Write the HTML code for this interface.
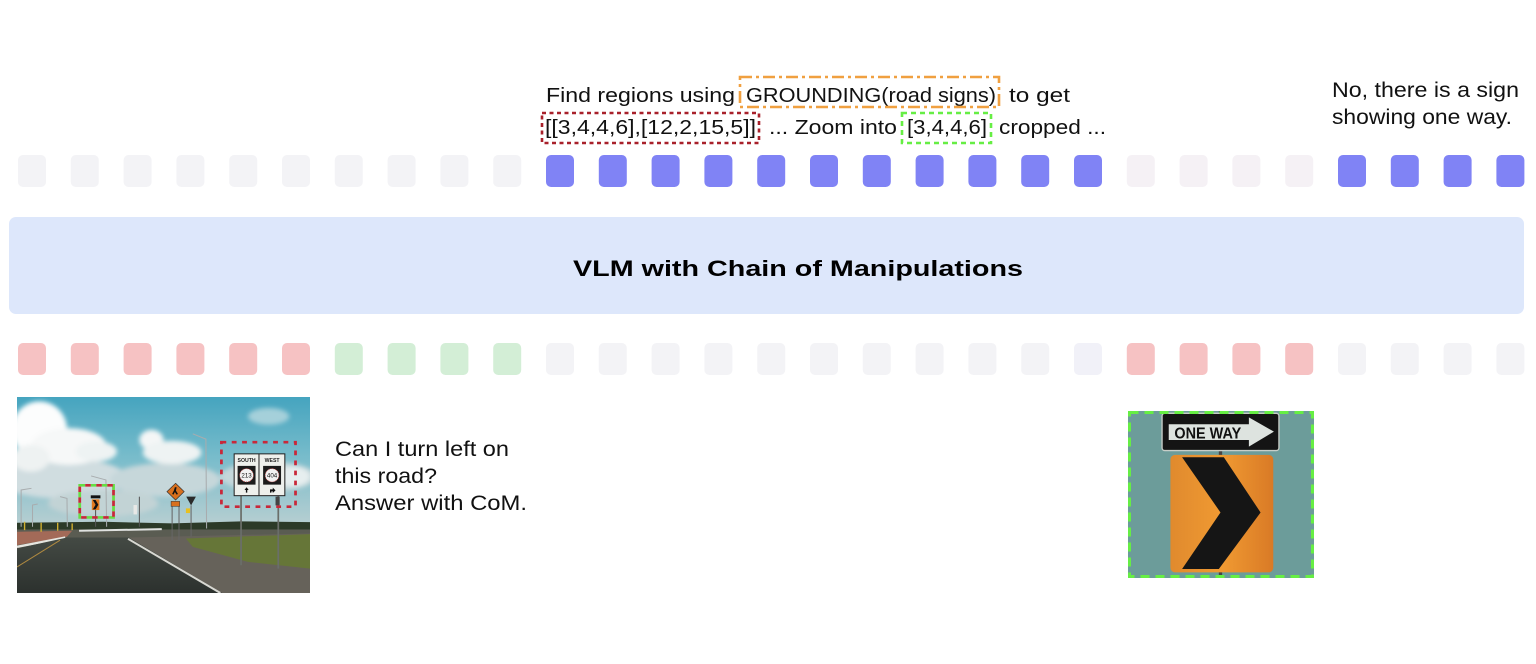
<!DOCTYPE html>
<html><head><meta charset="utf-8"><style>
html,body{margin:0;padding:0;background:#fff;}
svg{display:block;}
text{font-family:"Liberation Sans","DejaVu Sans",sans-serif;}
</style></head><body>
<svg width="1536" height="664" viewBox="0 0 1536 664" xmlns="http://www.w3.org/2000/svg">
<rect width="1536" height="664" fill="#fff"/>

<!-- top text -->
<g font-size="20" fill="#111">
<text x="546" y="102" textLength="189" lengthAdjust="spacingAndGlyphs">Find regions using</text>
<text x="746" y="102" textLength="250" lengthAdjust="spacingAndGlyphs">GROUNDING(road signs)</text>
<text x="1009" y="102" textLength="61" lengthAdjust="spacingAndGlyphs">to get</text>
<text x="545" y="134" textLength="211" lengthAdjust="spacingAndGlyphs">[[3,4,4,6],[12,2,15,5]]</text>
<text x="769" y="134" textLength="128" lengthAdjust="spacingAndGlyphs">... Zoom into</text>
<text x="907" y="134" textLength="80" lengthAdjust="spacingAndGlyphs">[3,4,4,6]</text>
<text x="999" y="134" textLength="107" lengthAdjust="spacingAndGlyphs">cropped ...</text>
</g>
<rect x="740" y="77" width="259" height="30" fill="none" stroke="#f0a040" stroke-width="2.6" stroke-dasharray="12 4 3 4"/>
<rect x="542" y="113" width="217" height="30" fill="none" stroke="#a8202a" stroke-width="2.6" stroke-dasharray="4 3.5"/>
<rect x="902" y="113" width="89" height="30" fill="none" stroke="#66ee44" stroke-width="2.6" stroke-dasharray="5 4"/>

<g font-size="21" fill="#111">
<text x="1332" y="97" textLength="187" lengthAdjust="spacingAndGlyphs">No, there is a sign</text>
<text x="1332" y="124" textLength="180" lengthAdjust="spacingAndGlyphs">showing one way.</text>
</g>

<!-- top tokens -->
<g>
<rect x="18" y="155" width="28" height="32" rx="5" fill="#f3f3f6"/>
<rect x="70.8" y="155" width="28" height="32" rx="5" fill="#f3f3f6"/>
<rect x="123.6" y="155" width="28" height="32" rx="5" fill="#f3f3f6"/>
<rect x="176.4" y="155" width="28" height="32" rx="5" fill="#f3f3f6"/>
<rect x="229.2" y="155" width="28" height="32" rx="5" fill="#f3f3f6"/>
<rect x="282" y="155" width="28" height="32" rx="5" fill="#f3f3f6"/>
<rect x="334.8" y="155" width="28" height="32" rx="5" fill="#f3f3f6"/>
<rect x="387.6" y="155" width="28" height="32" rx="5" fill="#f3f3f6"/>
<rect x="440.4" y="155" width="28" height="32" rx="5" fill="#f3f3f6"/>
<rect x="493.2" y="155" width="28" height="32" rx="5" fill="#f3f3f6"/>
<rect x="546" y="155" width="28" height="32" rx="5" fill="#8083f5"/>
<rect x="598.8" y="155" width="28" height="32" rx="5" fill="#8083f5"/>
<rect x="651.6" y="155" width="28" height="32" rx="5" fill="#8083f5"/>
<rect x="704.4" y="155" width="28" height="32" rx="5" fill="#8083f5"/>
<rect x="757.2" y="155" width="28" height="32" rx="5" fill="#8083f5"/>
<rect x="810" y="155" width="28" height="32" rx="5" fill="#8083f5"/>
<rect x="862.8" y="155" width="28" height="32" rx="5" fill="#8083f5"/>
<rect x="915.6" y="155" width="28" height="32" rx="5" fill="#8083f5"/>
<rect x="968.4" y="155" width="28" height="32" rx="5" fill="#8083f5"/>
<rect x="1021.2" y="155" width="28" height="32" rx="5" fill="#8083f5"/>
<rect x="1074" y="155" width="28" height="32" rx="5" fill="#8083f5"/>
<rect x="1126.8" y="155" width="28" height="32" rx="5" fill="#f5f1f5"/>
<rect x="1179.6" y="155" width="28" height="32" rx="5" fill="#f5f1f5"/>
<rect x="1232.4" y="155" width="28" height="32" rx="5" fill="#f5f1f5"/>
<rect x="1285.2" y="155" width="28" height="32" rx="5" fill="#f5f1f5"/>
<rect x="1338" y="155" width="28" height="32" rx="5" fill="#8083f5"/>
<rect x="1390.8" y="155" width="28" height="32" rx="5" fill="#8083f5"/>
<rect x="1443.6" y="155" width="28" height="32" rx="5" fill="#8083f5"/>
<rect x="1496.4" y="155" width="28" height="32" rx="5" fill="#8083f5"/>
</g>

<!-- VLM band -->
<rect x="9" y="217" width="1515" height="97" rx="7" fill="#dde7fb"/>
<text x="573" y="276" font-size="22" font-weight="bold" fill="#000" textLength="450" lengthAdjust="spacingAndGlyphs">VLM with Chain of Manipulations</text>

<!-- bottom tokens -->
<g>
<rect x="18" y="343" width="28" height="32" rx="5" fill="#f6c2c3"/>
<rect x="70.8" y="343" width="28" height="32" rx="5" fill="#f6c2c3"/>
<rect x="123.6" y="343" width="28" height="32" rx="5" fill="#f6c2c3"/>
<rect x="176.4" y="343" width="28" height="32" rx="5" fill="#f6c2c3"/>
<rect x="229.2" y="343" width="28" height="32" rx="5" fill="#f6c2c3"/>
<rect x="282" y="343" width="28" height="32" rx="5" fill="#f6c2c3"/>
<rect x="334.8" y="343" width="28" height="32" rx="5" fill="#d3eed6"/>
<rect x="387.6" y="343" width="28" height="32" rx="5" fill="#d3eed6"/>
<rect x="440.4" y="343" width="28" height="32" rx="5" fill="#d3eed6"/>
<rect x="493.2" y="343" width="28" height="32" rx="5" fill="#d3eed6"/>
<rect x="546" y="343" width="28" height="32" rx="5" fill="#f3f3f6"/>
<rect x="598.8" y="343" width="28" height="32" rx="5" fill="#f3f3f6"/>
<rect x="651.6" y="343" width="28" height="32" rx="5" fill="#f3f3f6"/>
<rect x="704.4" y="343" width="28" height="32" rx="5" fill="#f3f3f6"/>
<rect x="757.2" y="343" width="28" height="32" rx="5" fill="#f3f3f6"/>
<rect x="810" y="343" width="28" height="32" rx="5" fill="#f3f3f6"/>
<rect x="862.8" y="343" width="28" height="32" rx="5" fill="#f3f3f6"/>
<rect x="915.6" y="343" width="28" height="32" rx="5" fill="#f3f3f6"/>
<rect x="968.4" y="343" width="28" height="32" rx="5" fill="#f3f3f6"/>
<rect x="1021.2" y="343" width="28" height="32" rx="5" fill="#f3f3f6"/>
<rect x="1074" y="343" width="28" height="32" rx="5" fill="#f1f1f8"/>
<rect x="1126.8" y="343" width="28" height="32" rx="5" fill="#f6c2c3"/>
<rect x="1179.6" y="343" width="28" height="32" rx="5" fill="#f6c2c3"/>
<rect x="1232.4" y="343" width="28" height="32" rx="5" fill="#f6c2c3"/>
<rect x="1285.2" y="343" width="28" height="32" rx="5" fill="#f6c2c3"/>
<rect x="1338" y="343" width="28" height="32" rx="5" fill="#f3f3f6"/>
<rect x="1390.8" y="343" width="28" height="32" rx="5" fill="#f3f3f6"/>
<rect x="1443.6" y="343" width="28" height="32" rx="5" fill="#f3f3f6"/>
<rect x="1496.4" y="343" width="28" height="32" rx="5" fill="#f3f3f6"/>
</g>

<!-- question text -->
<g font-size="21" fill="#111">
<text x="335" y="456" textLength="174" lengthAdjust="spacingAndGlyphs">Can I turn left on</text>
<text x="335" y="483" textLength="102" lengthAdjust="spacingAndGlyphs">this road?</text>
<text x="335" y="510" textLength="192" lengthAdjust="spacingAndGlyphs">Answer with CoM.</text>
</g>

<!-- road photo -->
<svg x="17" y="397" width="293" height="196" viewBox="50 52 850 586" preserveAspectRatio="none">
<defs>
<linearGradient id="sky" x1="0" y1="0" x2="0" y2="1">
<stop offset="0" stop-color="#45a4bf"/>
<stop offset="0.45" stop-color="#78bccb"/>
<stop offset="1" stop-color="#bcd0d2"/>
</linearGradient>
<linearGradient id="road" x1="0" y1="0" x2="0" y2="1">
<stop offset="0" stop-color="#444a44"/>
<stop offset="1" stop-color="#2c312e"/>
</linearGradient>
<filter id="bl" x="-20%" y="-20%" width="140%" height="140%"><feGaussianBlur stdDeviation="7"/></filter>
</defs>
<rect x="50" y="52" width="850" height="400" fill="url(#sky)"/>
<g filter="url(#bl)">
<ellipse cx="180" cy="295" rx="190" ry="60" fill="#d0dde0"/>
<ellipse cx="480" cy="300" rx="160" ry="50" fill="#c6d7da"/>
<ellipse cx="780" cy="290" rx="140" ry="45" fill="#c4d7da"/>
<ellipse cx="115" cy="150" rx="80" ry="85" fill="#fcfdfd"/>
<ellipse cx="200" cy="200" rx="110" ry="55" fill="#f6f8f8"/>
<ellipse cx="280" cy="215" rx="60" ry="30" fill="#eef3f3"/>
<ellipse cx="90" cy="235" rx="55" ry="40" fill="#eef2f2"/>
<ellipse cx="440" cy="180" rx="35" ry="30" fill="#f4f6f6"/>
<ellipse cx="500" cy="218" rx="85" ry="35" fill="#eef3f3"/>
<ellipse cx="780" cy="110" rx="60" ry="25" fill="#a5d0da"/>
<ellipse cx="850" cy="290" rx="50" ry="30" fill="#e6eeef"/>
<ellipse cx="300" cy="370" rx="160" ry="40" fill="#c2d3d5"/>
</g>
<!-- horizon -->
<polygon points="50,428 300,425 500,430 700,424 900,426 900,450 50,452" fill="#2c3a28"/>
<rect x="50" y="448" width="850" height="190" fill="#5a5c52"/>
<polygon points="50,455 210,452 195,470 50,495" fill="#a36a58"/>
<line x1="50" y1="500" x2="190" y2="472" stroke="#e6e6e0" stroke-width="7"/>
<polygon points="50,505 195,472 375,472 645,638 50,638" fill="url(#road)"/>
<polygon points="375,472 900,460 900,638 645,638" fill="#66625a"/>
<polygon points="540,475 900,462 900,565 720,545 560,500" fill="#667638"/>
<line x1="372" y1="476" x2="640" y2="638" stroke="#d8d8d2" stroke-width="6"/>
<line x1="50" y1="560" x2="175" y2="480" stroke="#b08a40" stroke-width="3"/>
<line x1="230" y1="452" x2="470" y2="447" stroke="#e0e2e0" stroke-width="6"/>
<!-- poles -->
<g stroke="#a8acae" stroke-width="3" fill="none">
<polyline points="560,162 598,178 600,445"/>
<polyline points="265,288 308,300 310,440"/>
<polyline points="62,440 62,330 92,325"/>
<polyline points="175,350 195,355 196,440"/>
<polyline points="95,440 95,375 110,372"/>
</g>
<line x1="405" y1="350" x2="405" y2="440" stroke="#555" stroke-width="3"/>
<rect x="388" y="375" width="10" height="28" fill="#e8e8e6"/>
<!-- yellow posts -->
<g stroke="#d0b030" stroke-width="4">
<line x1="72" y1="425" x2="72" y2="450"/><line x1="120" y1="428" x2="120" y2="455"/><line x1="168" y1="428" x2="168" y2="452"/><line x1="210" y1="430" x2="210" y2="450"/>
</g>
<!-- orange diamond -->
<line x1="500" y1="375" x2="500" y2="480" stroke="#666" stroke-width="3"/>
<line x1="520" y1="375" x2="520" y2="480" stroke="#666" stroke-width="3"/>
<polygon points="510,310 535,335 510,360 485,335" fill="#d8701e" stroke="#333" stroke-width="2"/>
<path d="M508,322 l5,0 l-2,10 l6,10 l-4,2 l-5,-8 l-4,8 l-4,-2 l5,-10z" fill="#111"/>
<rect x="497" y="364" width="25" height="15" fill="#d8701e" stroke="#333" stroke-width="1.5"/>
<!-- yield -->
<line x1="555" y1="376" x2="555" y2="470" stroke="#666" stroke-width="3"/>
<polygon points="541,350 569,350 555,376" fill="#2a2a2a"/>
<rect x="540" y="385" width="12" height="14" fill="#e8c020"/>
<!-- big sign -->
<line x1="700" y1="347" x2="700" y2="555" stroke="#6a6e6a" stroke-width="5"/>
<line x1="808" y1="347" x2="808" y2="565" stroke="#6a6e6a" stroke-width="5"/>
<rect x="800" y="350" width="12" height="26" fill="#444"/>
<rect x="680" y="222" width="147" height="125" fill="#eef0ec" stroke="#222" stroke-width="3"/>
<line x1="752" y1="222" x2="752" y2="347" stroke="#222" stroke-width="3"/>
<text x="716" y="246" font-size="15" font-weight="bold" text-anchor="middle" fill="#222">SOUTH</text>
<text x="790" y="246" font-size="15" font-weight="bold" text-anchor="middle" fill="#222">WEST</text>
<rect x="690" y="258" width="52" height="56" fill="#1c1c1c"/>
<circle cx="716" cy="286" r="20" fill="#f2f2f2" stroke="#b03030" stroke-width="2" stroke-dasharray="3 3"/>
<text x="716" y="293" font-size="18" text-anchor="middle" fill="#111">213</text>
<rect x="764" y="258" width="52" height="56" fill="#1c1c1c"/>
<circle cx="790" cy="286" r="20" fill="#f2f2f2" stroke="#b03030" stroke-width="2" stroke-dasharray="3 3"/>
<text x="790" y="293" font-size="18" text-anchor="middle" fill="#111">404</text>
<path d="M716,322 l-6,8 h4 v8 h4 v-8 h4z" fill="#111"/>
<path d="M784,338 v-10 h8 v-5 l8,8 l-8,8 v-5 h-4 v4z" fill="#111"/>
<rect x="643" y="187" width="215" height="193" fill="none" stroke="#c8283a" stroke-width="8" stroke-dasharray="14 16"/>
<!-- small sign -->
<line x1="278" y1="390" x2="278" y2="440" stroke="#555" stroke-width="3"/>
<rect x="264" y="346" width="28" height="9" fill="#111"/>
<rect x="267" y="358" width="22" height="32" fill="#e07a20"/>
<polygon points="270,360 278,360 286,374 278,388 270,388 278,374" fill="#111"/>
<rect x="232" y="316" width="98" height="96" fill="none" stroke="#66dd44" stroke-width="8" stroke-dasharray="16 16"/>
<rect x="232" y="316" width="98" height="96" fill="none" stroke="#c8283a" stroke-width="8" stroke-dasharray="16 16" stroke-dashoffset="16"/>
</svg>

<!-- crop image -->
<svg x="1128" y="411" width="186" height="167" viewBox="83 243 557 502" preserveAspectRatio="none">
<defs>
<linearGradient id="org" x1="0" y1="0" x2="1" y2="0">
<stop offset="0" stop-color="#e08a2e"/>
<stop offset="0.5" stop-color="#f09a32"/>
<stop offset="1" stop-color="#d97a26"/>
</linearGradient>
</defs>
<rect x="83" y="243" width="557" height="502" fill="#6c9c9a"/>
<rect x="355" y="243" width="10" height="502" fill="#444"/>
<rect x="185" y="250" width="350" height="112" rx="8" fill="#141414" stroke="#c8cec8" stroke-width="4"/>
<polygon points="205,283 445,283 445,262 520,305 445,350 445,330 205,330" fill="#dde3df"/>
<text x="222" y="326" font-size="46" font-weight="bold" fill="#111" textLength="200" lengthAdjust="spacingAndGlyphs">ONE WAY</text>
<rect x="210" y="375" width="308" height="353" rx="14" fill="url(#org)"/>
<polygon points="245,382 370,382 480,548 355,718 245,718 360,548" fill="#151515"/>
</svg>
<rect x="1129.5" y="412.5" width="183" height="164" fill="none" stroke="#66ee44" stroke-width="3" stroke-dasharray="9 6"/>
</svg>
</body></html>
